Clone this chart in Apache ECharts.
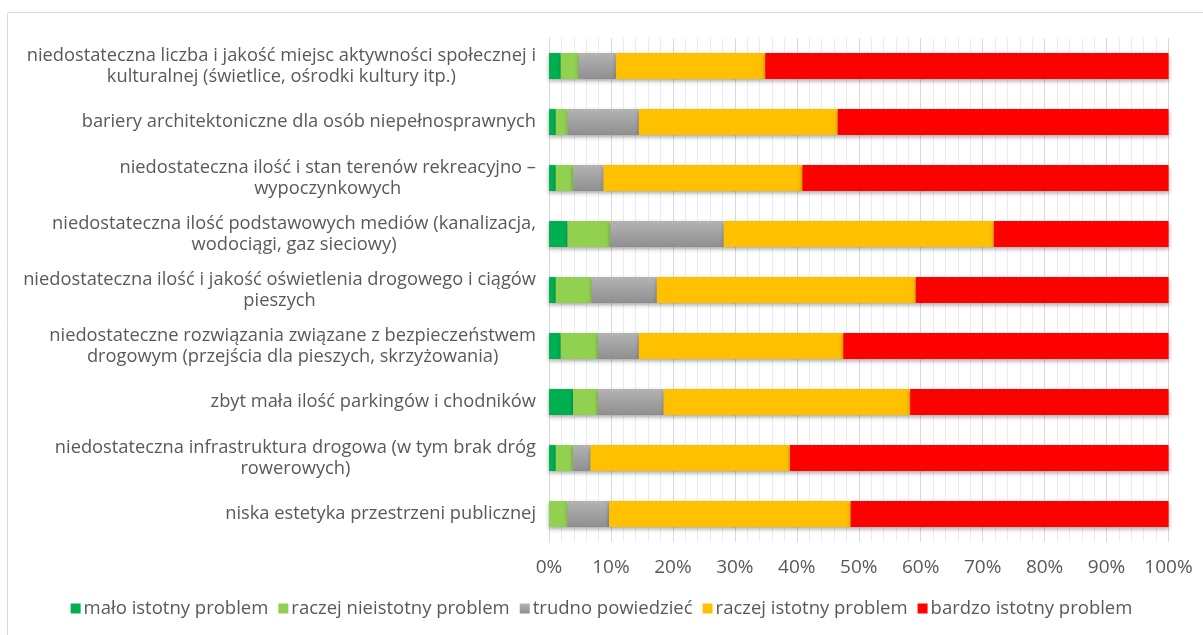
<!DOCTYPE html>
<html>
<head>
<meta charset="utf-8">
<script src="https://cdn.jsdelivr.net/npm/echarts@6/dist/echarts.min.js"></script>
<style>
html,body{margin:0;padding:0;background:#fff;}
#chart{width:1203px;height:635px;}
</style>
</head>
<body>
<div id="chart"></div>
<script>
var categories = [
  'niedostateczna liczba i jakość miejsc aktywności społecznej i\nkulturalnej (świetlice, ośrodki kultury itp.)',
  'bariery architektoniczne dla osób niepełnosprawnych',
  'niedostateczna ilość i stan terenów rekreacyjno –\nwypoczynkowych',
  'niedostateczna ilość podstawowych mediów (kanalizacja,\nwodociągi, gaz sieciowy)',
  'niedostateczna ilość i jakość oświetlenia drogowego i ciągów\npieszych',
  'niedostateczne rozwiązania związane z bezpieczeństwem\ndrogowym (przejścia dla pieszych, skrzyżowania)',
  'zbyt mała ilość parkingów i chodników',
  'niedostateczna infrastruktura drogowa (w tym brak dróg\nrowerowych)',
  'niska estetyka przestrzeni publicznej'
];
var seriesNames = ['mało istotny problem','raczej nieistotny problem','trudno powiedzieć','raczej istotny problem','bardzo istotny problem'];
var maloIstotny      = [1.9, 1.1, 1.1, 3.0, 1.1, 1.9, 3.9, 1.1, 0.0];
var raczejNieistotny = [2.9, 1.9, 2.8, 6.9, 5.8, 6.0, 4.0, 2.8, 3.0];
var trudnoPowiedziec = [6.0, 11.5, 4.9, 18.3, 10.5, 6.6, 10.6, 2.8, 6.7];
var raczejIstotny    = [24.1, 32.1, 32.1, 43.6, 41.8, 33.0, 39.8, 32.2, 39.0];
var bardzoIstotny    = [65.1, 53.4, 59.1, 28.2, 40.8, 52.5, 41.7, 61.1, 51.3];
var xTicks = [0,10,20,30,40,50,60,70,80,90,100];

var colors = ['#00B050','#92D050',
  {type:'linear',x:0,y:0,x2:0,y2:1,colorStops:[{offset:0,color:'#b4b4b4'},{offset:1,color:'#8f8f8f'}]},
  '#FFC000','#FF0000'];
var dataSets = [maloIstotny, raczejNieistotny, trudnoPowiedziec, raczejIstotny, bardzoIstotny];
var FONT = '"Open Sans", "Noto Sans", sans-serif';
var TXT = '#595959';
var FS = 18.3;

var chart = echarts.init(document.getElementById('chart'), null, {renderer:'canvas'});
chart.setOption({
  animation:false,
  backgroundColor:'#fff',
  graphic:[{type:'rect',shape:{x:7.5,y:12.5,width:1200,height:630,r:2},style:{fill:'none',stroke:'#d9d9d9',lineWidth:1},silent:true,z:-1}],
  grid:{left:549,right:34.5,top:38,bottom:93,containLabel:false},
  legend:{
    bottom:12, left:'center', itemWidth:10, itemHeight:10, itemGap:10, icon:'rect',
    textStyle:{color:TXT,fontSize:18.5,fontFamily:FONT,padding:[0,0,0,-2]},
    data:seriesNames
  },
  xAxis:{
    type:'value', min:xTicks[0], max:xTicks[xTicks.length-1], interval:10,
    axisLine:{show:false}, axisTick:{show:false},
    axisLabel:{formatter:function(v){return v+'%';},color:TXT,fontSize:19,fontFamily:FONT,margin:16},
    splitLine:{show:true,lineStyle:{color:'#d9d9d9',width:1}},
    minorTick:{show:false,splitNumber:5},
    minorSplitLine:{show:true,lineStyle:{color:'#ececec',width:1}}
  },
  yAxis:{
    type:'category', inverse:true, data:categories,
    axisLine:{show:true,lineStyle:{color:'#d9d9d9'}}, axisTick:{show:false},
    axisLabel:{
      color:TXT,fontSize:FS,fontFamily:FONT,margin:13,lineHeight:21,
      formatter:function(v){return v.split('\n').map(function(l){return '{a|'+l+'}';}).join('\n');},
      rich:{a:{align:'center',color:TXT,fontSize:FS,fontFamily:FONT,lineHeight:21}}
    }
  },
  series:seriesNames.map(function(n,i){
    return {
      name:n, type:'bar', stack:'total', barWidth:26,
      itemStyle:{color:colors[i],shadowColor:'rgba(0,0,0,0.35)',shadowBlur:4,shadowOffsetY:2},
      data:dataSets[i]
    };
  })
});
</script>
</body>
</html>
